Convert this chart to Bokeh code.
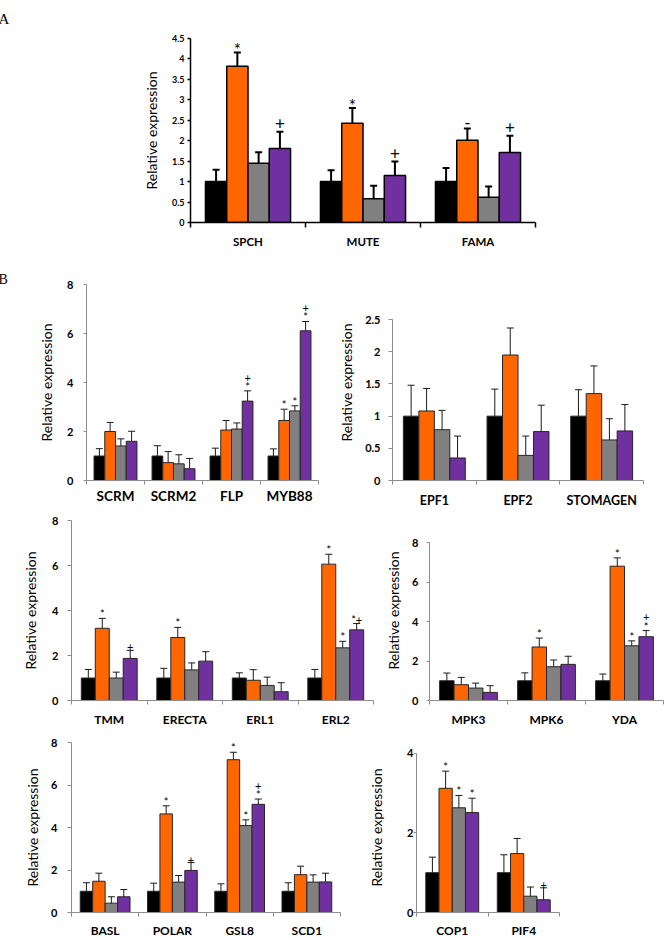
from bokeh.plotting import figure
from bokeh.models import (ColumnDataSource, Range1d, LinearAxis, FixedTicker, Whisker, TeeHead)
from bokeh.layouts import column, row
from bokeh.core.properties import value
from bokeh.embed import file_html
from bokeh.resources import INLINE

COLORS = ["#000000", "#FF6600", "#808080", "#7030A0"]
OFFS = [-0.2775, -0.0925, 0.0925, 0.2775]
BW = 0.185

# ---------------- data ----------------
A_genes = ["SPCH", "MUTE", "FAMA"]
A_vals = [[1.0, 1.0, 1.0], [3.82, 2.43, 2.01], [1.45, 0.58, 0.62], [1.81, 1.15, 1.71]]
A_errs = [[0.29, 0.28, 0.33], [0.34, 0.37, 0.29], [0.27, 0.32, 0.26], [0.41, 0.34, 0.41]]
A_anns = [["", "", ""], ["*", "*", "-"], ["", "", ""], ["+", "+", "+"]]
A_yticks = [0, 0.5, 1, 1.5, 2, 2.5, 3, 3.5, 4, 4.5]
A_ylabels = ["0", "0.5", "1", "1.5", "2", "2.5", "3", "3.5", "4", "4.5"]

B1_genes = ["SCRM", "SCRM2", "FLP", "MYB88"]
B1_vals = [[1.0, 1.0, 1.0, 1.0], [2.0, 0.73, 2.06, 2.45], [1.41, 0.68, 2.1, 2.84], [1.6, 0.48, 3.24, 6.11]]
B1_errs = [[0.3, 0.42, 0.32, 0.29], [0.37, 0.45, 0.39, 0.46], [0.29, 0.37, 0.25, 0.21], [0.41, 0.42, 0.42, 0.38]]
B1_anns = [["", "", "", ""], ["", "", "", "*"], ["", "", "", "*"], ["", "", "+\n*", "+\n*"]]

B2_genes = ["EPF1", "EPF2", "STOMAGEN"]
B2_vals = [[1.0, 1.0, 1.0], [1.08, 1.95, 1.35], [0.79, 0.39, 0.63], [0.35, 0.76, 0.77]]
B2_errs = [[0.48, 0.42, 0.41], [0.35, 0.42, 0.43], [0.3, 0.3, 0.33], [0.34, 0.41, 0.41]]
B2_anns = [["", "", ""], ["", "", ""], ["", "", ""], ["", "", ""]]
B2_yticks = [0, 0.5, 1, 1.5, 2, 2.5]
B2_ylabels = ["0", "0.5", "1", "1.5", "2", "2.5"]

B3_genes = ["TMM", "ERECTA", "ERL1", "ERL2"]
B3_vals = [[1.0, 1.0, 1.0, 1.0], [3.21, 2.8, 0.9, 6.06], [1.0, 1.36, 0.67, 2.34], [1.87, 1.75, 0.39, 3.14]]
B3_errs = [[0.38, 0.43, 0.23, 0.38], [0.44, 0.45, 0.47, 0.44], [0.26, 0.31, 0.37, 0.29], [0.36, 0.42, 0.4, 0.28]]
B3_anns = [["", "", "", ""], ["*", "*", "", "*"], ["", "", "", "*"], ["+", "", "", "*+"]]

B4_genes = ["MPK3", "MPK6", "YDA"]
B4_vals = [[1.0, 1.0, 1.0], [0.8, 2.71, 6.8], [0.63, 1.71, 2.77], [0.41, 1.83, 3.23]]
B4_errs = [[0.39, 0.4, 0.34], [0.37, 0.45, 0.42], [0.25, 0.34, 0.25], [0.34, 0.41, 0.31]]
B4_anns = [["", "", ""], ["", "*", "*"], ["", "", "*"], ["", "", "+\n*"]]

B5_genes = ["BASL", "POLAR", "GSL8", "SCD1"]
B5_vals = [[1.0, 1.0, 1.0, 1.0], [1.47, 4.64, 7.19, 1.78], [0.44, 1.43, 4.09, 1.43], [0.74, 1.98, 5.09, 1.44]]
B5_errs = [[0.4, 0.38, 0.35, 0.4], [0.38, 0.38, 0.35, 0.4], [0.3, 0.31, 0.27, 0.34], [0.34, 0.37, 0.25, 0.41]]
B5_anns = [["", "", "", ""], ["", "*", "*", ""], ["", "", "*", ""], ["", "+", "+\n*", ""]]

B6_genes = ["COP1", "PIF4"]
B6_vals = [[1.0, 1.0], [3.12, 1.48], [2.63, 0.41], [2.51, 0.32]]
B6_errs = [[0.39, 0.45], [0.43, 0.38], [0.31, 0.23], [0.36, 0.3]]
B6_anns = [["", ""], ["*", ""], ["*", ""], ["*", "+"]]
B6_yticks = [0, 2, 4]

B_yticks8 = [0, 2, 4, 6, 8]

FONT = "Lato"

STYLE_A = dict(axis_color="#000000", axis_width=1.5, bar_line="#000000", bar_lw=1.5,
               err_color="#000000", err_w=2, cap=7, tick_fs="9px", cat_fs="11.5px",
               title_fs="14px", ann_fs="17px", tick_out=3, tick_standoff=3, title_standoff=9,
               sep_out=5, cat_standoff=7, ann_base="middle", ann_lh=1.0,
               ann_shift={"*": -3, "+": -8, "-": -6, "": 0})
STYLE_B = dict(axis_color="#8c8c8c", axis_width=1, bar_line="#262626", bar_lw=1,
               err_color="#1a1a1a", err_w=1, cap=7, tick_fs="11px", cat_fs="12px",
               title_fs="14px", ann_fs="11px", tick_out=3, tick_standoff=9, title_standoff=8,
               sep_out=4, cat_standoff=5, ann_base="bottom", ann_lh=0.7,
               ann_shift={"*": 2, "+": 1, "*+": 2, "+\n*": 2, "": 0})


def set_letter(p, letter, offset, standoff, fs):
    p.title.text = letter
    p.title.align = "left"
    p.title.vertical_align = "top"
    p.title.offset = offset
    p.title.standoff = standoff
    p.title.text_font = "Liberation Serif"
    p.title.text_font_style = "normal"
    p.title.text_font_size = fs
    p.title.text_color = "#000000"


def make_panel(genes, vals, errs, anns, ytop, ybound, yticks, ylabels, W, H, fl, fw, ft, fh, st, **over):
    st = dict(st, **over)
    n = len(genes)
    p = figure(width=W, height=H, x_range=Range1d(0, n),
               y_range=Range1d(0, ytop), output_backend="svg", toolbar_location=None,
               x_axis_location=None, min_border_left=fl, min_border_right=W - fl - fw,
               min_border_top=ft, min_border_bottom=H - ft - fh)
    p.outline_line_color = None
    p.xgrid.visible = False
    p.ygrid.visible = False
    p.background_fill_color = "white"
    p.border_fill_color = "white"

    yax = p.yaxis[0]
    yax.bounds = (0, ybound)
    yax.ticker = FixedTicker(ticks=yticks)
    if ylabels is not None:
        yax.major_label_overrides = {t: l for t, l in zip(yticks, ylabels)}
    yax.axis_label = "Relative expression"
    yax.axis_label_text_font = FONT
    yax.axis_label_text_font_style = "normal"
    yax.axis_label_text_font_size = st["title_fs"]
    yax.axis_label_text_color = "#000000"
    yax.axis_label_standoff = st["title_standoff"]
    yax.major_label_text_font = FONT
    yax.major_label_text_font_style = "bold"
    yax.major_label_text_font_size = st["tick_fs"]
    yax.major_label_text_color = "#000000"
    yax.major_label_standoff = st["tick_standoff"]
    yax.axis_line_color = st["axis_color"]
    yax.axis_line_width = st["axis_width"]
    yax.major_tick_line_color = st["axis_color"]
    yax.major_tick_line_width = st["axis_width"]
    yax.major_tick_in = 0
    yax.major_tick_out = st["tick_out"]
    yax.minor_tick_line_color = None

    centers = [i + 0.5 for i in range(n)]
    xax = LinearAxis(ticker=FixedTicker(ticks=centers, minor_ticks=list(range(n + 1))),
                     major_label_overrides={c: g for c, g in zip(centers, genes)},
                     bounds=(0, n),
                     axis_line_color=st["axis_color"], axis_line_width=st["axis_width"],
                     major_tick_line_color=None, major_tick_in=0, major_tick_out=0,
                     minor_tick_line_color=st["axis_color"], minor_tick_line_width=st["axis_width"],
                     minor_tick_in=0, minor_tick_out=st["sep_out"],
                     major_label_standoff=st["cat_standoff"],
                     major_label_text_font=FONT, major_label_text_font_style="bold",
                     major_label_text_font_size=st["cat_fs"], major_label_text_color="#000000")
    p.add_layout(xax, "below")

    for i in range(4):
        xpos = [k + 0.5 + OFFS[i] for k in range(n)]
        upper = [v + e for v, e in zip(vals[i], errs[i])]
        lower = [v - e for v, e in zip(vals[i], errs[i])]
        yoff = [st["ann_shift"].get(a, 0) for a in anns[i]]
        src = ColumnDataSource(dict(x=xpos, gene=genes, val=vals[i], upper=upper, lower=lower,
                                    ann=anns[i], yoff=yoff))
        p.vbar(x="x", top="val", bottom=0, width=BW, source=src, fill_color=COLORS[i],
               line_color=st["bar_line"], line_width=st["bar_lw"])
        wk = Whisker(base="x", upper="upper", lower="lower", source=src,
                     line_color=st["err_color"], line_width=st["err_w"],
                     upper_head=TeeHead(size=st["cap"], line_color=st["err_color"], line_width=st["err_w"]),
                     lower_head=TeeHead(size=st["cap"], line_color=st["err_color"], line_width=st["err_w"]))
        p.add_layout(wk)
        p.text(x="x", y="upper", text="ann", source=src, text_align="center",
               text_baseline=st["ann_base"], text_font=value(FONT), text_font_size=st["ann_fs"],
               text_color="#000000", text_line_height=st["ann_lh"], y_offset="yoff")
    return p


# Row A: window y 0..262, frame 190..535 x 34..222
pA = make_panel(A_genes, A_vals, A_errs, A_anns, 4.5, 4.5, A_yticks, A_ylabels,
                666, 262, 190, 345, 34, 188, STYLE_A)
set_letter(pA, "A", -192, 20, "15px")

# Row B1/B2: window y 262..510, common frame y 284..485
pB1 = make_panel(B1_genes, B1_vals, B1_errs, B1_anns, 8, 8, B_yticks8, None,
                 330, 248, 86, 232, 22, 201, STYLE_B, cat_fs="13.5px", cat_standoff=3,
                 tick_standoff=10, title_standoff=9)
set_letter(pB1, "B", -88, -9, "14px")

pB2 = make_panel(B2_genes, B2_vals, B2_errs, B2_anns, 2.5 * 201 / 165, 2.5, B2_yticks, B2_ylabels,
                 336, 248, 62, 251, 22, 201, STYLE_B, cat_fs="12.5px", tick_out=4,
                 tick_standoff=8, title_standoff=7, cat_standoff=8)

# Row B3/B4: window y 510..730, common frame y 520..700
pB3 = make_panel(B3_genes, B3_vals, B3_errs, B3_anns, 8, 8, B_yticks8, None,
                 382, 220, 71, 302, 10, 180, STYLE_B, tick_out=4, tick_standoff=9,
                 title_standoff=10, cat_standoff=7)

pB4 = make_panel(B4_genes, B4_vals, B4_errs, B4_anns, 8 * 180 / 158, 8, B_yticks8, None,
                 284, 220, 41, 240, 10, 180, STYLE_B, tick_standoff=8, title_standoff=7,
                 cat_standoff=7)

# Row B5/B6: window y 730..940, common frame y 742..916
pB5 = make_panel(B5_genes, B5_vals, B5_errs, B5_anns, 8, 8, B_yticks8, None,
                 350, 210, 71, 269, 12, 174, STYLE_B, tick_out=4, tick_standoff=10,
                 title_standoff=7, cat_standoff=6)

pB6 = make_panel(B6_genes, B6_vals, B6_errs, B6_anns, 4 * 174 / 163, 4, B6_yticks, None,
                 316, 210, 66, 143, 12, 174, STYLE_B, tick_standoff=0, title_standoff=19,
                 cat_standoff=6)

layout = column(pA, row(pB1, pB2), row(pB3, pB4), row(pB5, pB6))

open("out.html", "w").write(file_html(layout, INLINE))
